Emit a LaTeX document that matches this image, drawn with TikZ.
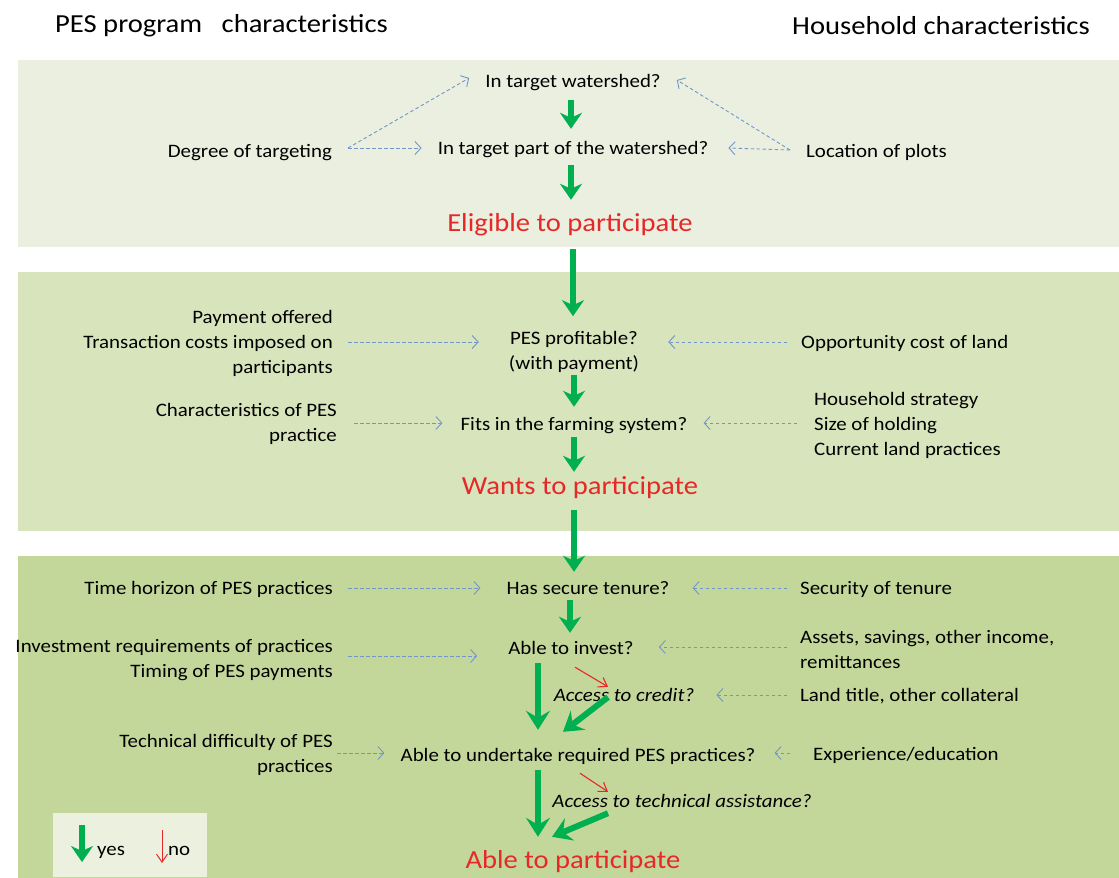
\documentclass[tikz,border=0pt]{standalone}
\usepackage{fontspec}
\setmainfont[FakeStretch=1.1]{Carlito}
\usetikzlibrary{arrows.meta,calc}
\definecolor{pone}{RGB}{235,239,223}
\definecolor{ptwo}{RGB}{216,228,188}
\definecolor{pthree}{RGB}{196,215,155}
\definecolor{legbg}{RGB}{235,241,222}
\definecolor{ygreen}{RGB}{0,176,80}
\definecolor{nred}{RGB}{230,40,40}
\definecolor{dblue}{RGB}{115,150,200}
\tikzset{
  txt/.style={inner sep=0pt, font=\fontsize{19}{25}\selectfont, text height=16pt, text depth=2pt},
  mtxt/.style={inner sep=0pt, font=\fontsize{19}{25}\selectfont},
  itxt/.style={txt, font=\fontsize{19}{25}\selectfont\itshape},
  redlbl/.style={inner sep=0pt, text=nred, font=\fontsize{26}{30}\selectfont, text height=20pt, text depth=5pt},
  hdr/.style={inner sep=0pt, font=\fontsize{26}{30}\selectfont},
  yesarrow/.style={draw=ygreen, line width=5.5pt, -{Stealth[length=16pt,width=22pt,inset=5pt]}},
  bigyes/.style={draw=ygreen, line width=6pt, -{Stealth[length=19pt,width=24pt,inset=7pt]}},
  noarrow/.style={draw=nred, line width=1.1pt, -{Straight Barb[length=8pt,width=11pt]}},
  darrow/.style={draw=dblue, line width=0.9pt, dash pattern=on 3.5pt off 2.5pt, -{Straight Barb[length=6pt,width=13pt]}},
}
\begin{document}
\begin{tikzpicture}[x=1pt,y=-1pt]
\useasboundingbox (0,0) rectangle (1119,878);
\fill[white] (0,0) rectangle (1119,878);
% panels
\fill[pone] (18,60) rectangle (1119,247);
\fill[ptwo] (18,272) rectangle (1119,531);
\fill[pthree] (18,556) rectangle (1119,878);
% headers
\node[hdr, anchor=west] (h1) at (55,26) {PES program\ \ \ characteristics};
\node[hdr, anchor=east] (h2) at (1090,26) {Household characteristics};
% ---------- panel 1
\node[txt] (q1) at (573,80) {In target watershed?};
\node[txt] (q2) at (573,147) {In target part of the watershed?};
\node[redlbl] (el) at (570,224) {Eligible to participate};
\node[txt, anchor=east] (deg) at (332,150) {Degree of targeting};
\node[txt, anchor=west] (loc) at (806,150) {Location of plots};
\draw[yesarrow] ($(q1.south)+(-2,11)$) -- ($(q2.north)+(-2,-9)$);
\draw[yesarrow] ($(q2.south)+(-2,9)$) -- ($(el.north)+(1,-11.5)$);
\draw[darrow] ($(deg.east)+(16,-2)$) -- ($(q2.west)+(-16,1)$);
\draw[darrow] ($(deg.east)+(16,-2)$) -- ($(q1.west)+(-16,-2)$);
\draw[darrow] ($(loc.west)+(-16,0)$) -- ($(q2.east)+(20,1)$);
\draw[darrow] ($(loc.west)+(-16,0)$) -- ($(q1.east)+(16,0)$);
% ---------- panel 2
\node[mtxt, align=center] (pp) at (574,352) {PES profitable?\\(with payment)};
\node[mtxt, align=right, anchor=east] (pay) at (333,343) {Payment offered\\Transaction costs imposed on\\participants};
\node[txt, anchor=west] (opp) at (801,341) {Opportunity cost of land};
\node[txt] (fit) at (574,423) {Fits in the farming system?};
\node[mtxt, align=right, anchor=east] (chr) at (337,424) {Characteristics of PES\\practice};
\node[mtxt, align=left, anchor=west] (hh) at (814,425) {Household strategy\\Size of holding\\Current land practices};
\node[redlbl] (wa) at (580,487) {Wants to participate};
\draw[yesarrow] ($(el.south)+(3,12.5)$) -- ($(pp.north)+(-1,-15)$);
\draw[yesarrow] ($(pp.south)+(0,2)$) -- ($(fit.north)+(0,-7)$);
\draw[yesarrow] ($(fit.south)+(0,5)$) -- ($(wa.north)+(-6,-2.5)$);
\draw[darrow] ($(pay.east)+(15,-1)$) -- ($(pp.west)+(-30,-10)$);
\draw[darrow] ($(opp.west)+(-14,1)$) -- ($(pp.east)+(29,-10)$);
\draw[darrow] ($(chr.east)+(17,-1)$) -- ($(fit.west)+(-18,0)$);
\draw[darrow] ($(hh.west)+(-17,-2)$) -- ($(fit.east)+(16,0)$);
% ---------- panel 3
\node[txt] (st) at (588,587) {Has secure tenure?};
\node[txt, anchor=east] (th) at (333,587) {Time horizon of PES practices};
\node[txt, anchor=west] (sec) at (800,587) {Security of tenure};
\node[txt] (ai) at (571,647) {Able to invest?};
\node[mtxt, align=right, anchor=east] (inv) at (333,660) {Investment requirements of practices\\Timing of PES payments};
\node[mtxt, align=left, anchor=west] (ast) at (800,649) {Assets, savings, other income,\\remittances};
\node[itxt] (ac) at (624,694) {Access to credit?};
\node[txt, anchor=west] (lt) at (800,694) {Land title, other collateral};
\node[txt] (au) at (578,754) {Able to undertake required PES practices?};
\node[mtxt, align=right, anchor=east] (td) at (333,755) {Technical difficulty of PES\\practices};
\node[txt, anchor=west] (exper) at (813,753) {Experience/education};
\node[itxt] (ta) at (682,800) {Access to technical assistance?};
\node[redlbl] (ap) at (573,861) {Able to participate};
\draw[yesarrow] ($(wa.south)+(-6,10.5)$) -- ($(st.north)+(-14,-6)$);
\draw[yesarrow] ($(st.south)+(-18,4)$) -- ($(ai.north)+(-1,-5)$);
\draw[darrow] ($(th.east)+(15,1)$) -- ($(st.west)+(-26,1)$);
\draw[darrow] ($(sec.west)+(-13,1)$) -- ($(st.east)+(23,1)$);
\draw[darrow] ($(inv.east)+(15,-4)$) -- ($(ai.west)+(-31,9)$);
\draw[darrow] ($(ast.west)+(-13,-2)$) -- ($(ai.east)+(25,0)$);
\draw[darrow] ($(lt.west)+(-13,1)$) -- ($(ac.east)+(22,1)$);
\draw[darrow] ($(td.east)+(4,-2)$) -- ($(au.west)+(-16,-1)$);
\draw[darrow] ($(exper.west)+(-23,0)$) -- ($(au.east)+(19,-1)$);
\draw[noarrow] ($(ai.south)+(4,11)$) -- ($(ac.north)+(-16,2)$);
\draw[bigyes] ($(ai.south)+(-33,7)$) -- ($(au.north)+(-40,-15)$);
\draw[bigyes] ($(ac.south)+(-16,-6)$) -- ($(au.north)+(-15,-13)$);
\draw[noarrow] ($(au.south)+(2,10)$) -- ($(ta.north)+(-74,1)$);
\draw[bigyes] ($(au.south)+(-40,7)$) -- ($(ap.north)+(-35,-11.5)$);
\draw[bigyes] ($(ta.south)+(-74,4)$) -- ($(ap.north)+(-21,-11.5)$);
% ---------- legend
\fill[legbg] (53,813) rectangle (207,877);
\coordinate (ly1) at (82,825);
\coordinate (ly2) at (82,862);
\draw[yesarrow] (ly1) -- (ly2);
\node[txt, anchor=west] (yes) at (97,848) {yes};
\coordinate (ln1) at (162,830);
\coordinate (ln2) at (162,863);
\draw[noarrow, line width=1pt] (ln1) -- (ln2);
\node[txt, anchor=west] (no) at (168,848) {no};
\end{tikzpicture}
\end{document}
